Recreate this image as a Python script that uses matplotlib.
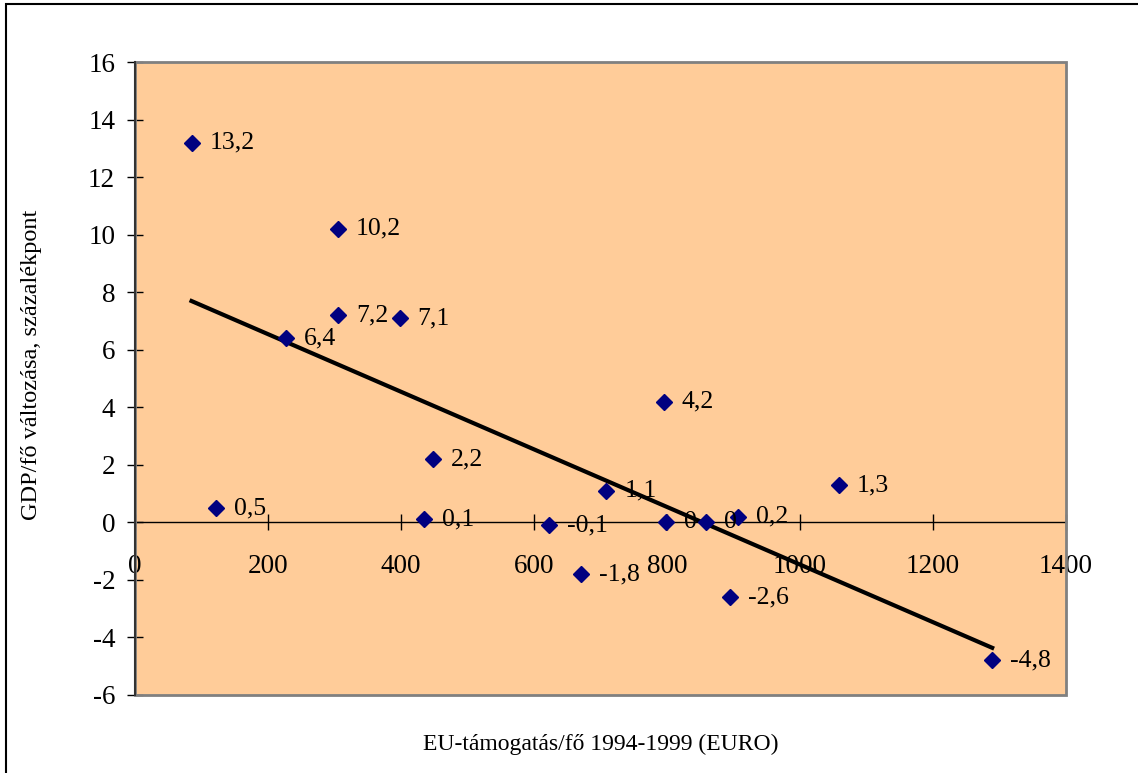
import numpy as np
import matplotlib.pyplot as plt
from matplotlib.patches import Rectangle

plt.rcParams['font.family'] = ['Liberation Serif', 'DejaVu Serif']
plt.rcParams['axes.unicode_minus'] = False

# EU support per capita 1994-1999 (EURO) and GDP/capita change (percentage points)
eu_support = [85, 122, 227, 305, 305, 398, 434, 448, 623, 671, 709, 795, 798, 858, 895, 907, 1058, 1289]
gdp_change = [13.2, 0.5, 6.4, 10.2, 7.2, 7.1, 0.1, 2.2, -0.1, -1.8, 1.1, 4.2, 0, 0, -2.6, 0.2, 1.3, -4.8]

x_ticks = [0, 200, 400, 600, 800, 1000, 1200, 1400]
y_ticks = [-6, -4, -2, 0, 2, 4, 6, 8, 10, 12, 14, 16]

x_label = "EU-támogatás/fő 1994-1999 (EURO)"
y_label = "GDP/fő változása, százalékpont"


def fmt(v):
    if v == 0:
        return "0"
    return ("%g" % v).replace('.', ',')


fig = plt.figure(figsize=(11.38, 7.73), dpi=100)
fig.patches.append(Rectangle((6 / 1138, -0.1), 1.2, 1.1 - 4 / 773, transform=fig.transFigure,
                             fill=False, edgecolor='black', linewidth=1.5))

ax = fig.add_axes([135 / 1138, 1 - 695 / 773, (1066 - 135) / 1138, (695 - 62) / 773])
ax.set_facecolor('#FFCC99')

ax.set_xlim(0, 1400)
ax.set_ylim(-6, 16)
ax.set_xticks(x_ticks)
ax.set_yticks(y_ticks)

# plot area border
ax.add_patch(Rectangle((0, 0), 1, 1, transform=ax.transAxes, fill=False,
                       edgecolor='#808080', linewidth=2, zorder=5, clip_on=False))

for s in ['top', 'right']:
    ax.spines[s].set_visible(False)
ax.spines['left'].set_color('#333333')
ax.spines['left'].set_linewidth(1.5)
ax.spines['left'].set_zorder(6)
ax.spines['bottom'].set_position(('data', 0))
ax.spines['bottom'].set_linewidth(1.0)

ax.tick_params(axis='y', direction='inout', length=11.5, width=1, labelsize=19.5, pad=8.5)
ax.tick_params(axis='x', direction='inout', length=12, width=1, labelsize=19.5, pad=17)

# linear trend
k, b = np.polyfit(eu_support, gdp_change, 1)
xs = np.array([min(eu_support), max(eu_support)])
ax.plot(xs, k * xs + b, color='black', linewidth=3, zorder=3)

ax.plot(eu_support, gdp_change, linestyle='none', marker='D', markersize=8.5,
        color='#000080', zorder=4)

for xv, yv in zip(eu_support, gdp_change):
    ax.annotate(fmt(yv), (xv, yv), xytext=(13, 0), textcoords='offset points',
                va='center', ha='left', fontsize=18.5, zorder=7)

ax.set_xlabel(x_label, fontsize=17)
ax.xaxis.set_label_coords(0.5, -0.062)
ax.set_ylabel(y_label, fontsize=17.5)
ax.yaxis.set_label_coords(-0.1, 0.521)

plt.savefig('out.png', dpi=100)
